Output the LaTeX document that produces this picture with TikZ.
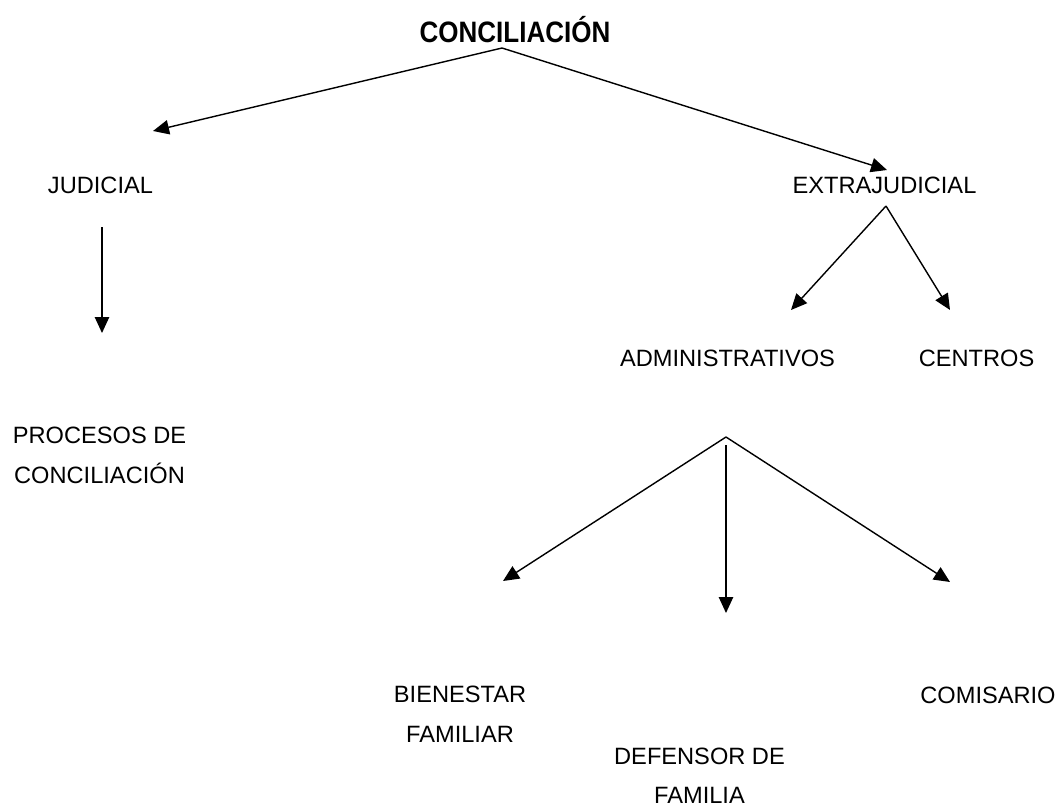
\documentclass[tikz,border=0pt]{standalone}
\usepackage{fontspec}
\setmainfont{Liberation Sans}
\newfontfamily\titulofont[FakeStretch=0.88]{Liberation Sans}
\usetikzlibrary{arrows.meta,calc}

\tikzset{
	texto/.style={inner sep=0pt, align=center, font=\fontsize{16.8pt}{28.5pt}\selectfont},
	flecha/.style={line width=1pt, -{Triangle[length=0.4cm,width=0.36cm]}}
}

\begin{document}
\begin{tikzpicture}[x=0.025cm, y=-0.025cm]
	\useasboundingbox (0, 0) rectangle (1059, 810);
	\node[inner sep=0pt, anchor=base, font=\titulofont\bfseries\fontsize{21pt}{24pt}\selectfont] (concil) at (515, 42) {CONCILIACIÓN};
	\node[texto, anchor=base] (judicial) at (100.5, 193) {JUDICIAL};
	\node[texto, anchor=north] (procesos) at (99.5, 427) {PROCESOS DE\\CONCILIACIÓN};
	\node[texto, anchor=base] (extra) at (884.5, 193) {EXTRAJUDICIAL};
	\node[texto, anchor=base] (admin) at (727.5, 366) {ADMINISTRATIVOS};
	\node[texto, anchor=base] (centros) at (976.5, 366) {CENTROS};
	\node[texto, anchor=north] (bienestar) at (460, 686) {BIENESTAR\\FAMILIAR};
	\node[texto, anchor=north, font=\fontsize{16.8pt}{27.5pt}\selectfont] (defensor) at (699.5, 748) {DEFENSOR DE\\FAMILIA};
	\node[texto, anchor=base] (comisario) at (988, 703) {COMISARIO};
	%%%%%
	\coordinate (raiz) at (502, 48);
	\coordinate (pJud) at (153, 131);
	\coordinate (pExtra) at (887, 170);
	\coordinate (rJud) at (102, 227);
	\coordinate (pProc) at (102, 333);
	\coordinate (rExtra) at (886, 206);
	\coordinate (pAdmin) at (791, 310);
	\coordinate (pCentros) at (950, 310);
	\coordinate (rAdmin) at (726, 437);
	\coordinate (rDef) at (726, 445);
	\coordinate (pBien) at (503, 581);
	\coordinate (pDef) at (726, 613);
	\coordinate (pCom) at (950, 582);
	%%%%%
	\draw[flecha] (raiz) -- (pJud);
	\draw[flecha] (raiz) -- (pExtra);
	\draw[flecha] (rJud) -- (pProc);
	\draw[flecha] (rExtra) -- (pAdmin);
	\draw[flecha] (rExtra) -- (pCentros);
	\draw[flecha] (rAdmin) -- (pBien);
	\draw[flecha] (rDef) -- (pDef);
	\draw[flecha] (rAdmin) -- (pCom);
\end{tikzpicture}
\end{document}
